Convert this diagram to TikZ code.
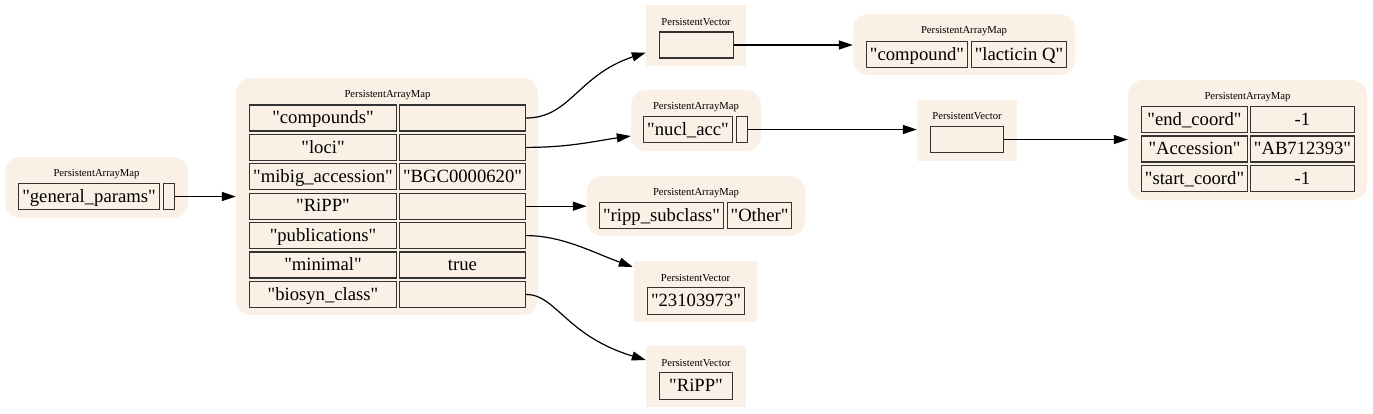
\documentclass[tikz,border=0pt]{standalone}
\usepackage{fontspec}
\newfontfamily\cf{Liberation Serif}
\usetikzlibrary{arrows.meta,calc}
\definecolor{bgc}{HTML}{FAF0E6}
\definecolor{cellb}{HTML}{333333}
\begin{document}
\begin{tikzpicture}[x=1pt,y=-1pt,
  mapbg/.style={fill=bgc,draw=none,rounded corners=15pt,inner sep=0,minimum width=#1},
  vecbg/.style={fill=bgc,draw=none,inner sep=0,minimum width=#1},
  cell/.style={draw=cellb,line width=1.3pt,fill=bgc,inner sep=0,minimum height=26pt,minimum width=#1,text height=15.5pt,text depth=4pt,font=\cf\fontsize{18.67}{20}\selectfont},
  lbl/.style={inner sep=0,font=\cf\fontsize{10.67}{12}\selectfont},
  conn/.style={line width=1.2pt,-{Triangle[length=14pt,width=9pt]}}]
\useasboundingbox (0,0) rectangle (1373,413);
% general params
\node[mapbg=183,minimum height=61] (gpbg) at (96.5,187.5) {};
\node[lbl] (gplbl) at (96.5,174) {PersistentArrayMap};
\node[cell=141] (gpk) at (89,196.5) {"general\_params"};
\node[cell=11] (gpv) at (169,196.5) {};
% central map
\node[mapbg=302,minimum height=237] (cbg) at (387,196.5) {};
\node[lbl] (clbl) at (387.5,95) {PersistentArrayMap};
\foreach \n/\y/\k in {1/118/"compounds", 2/147.4/"loci", 3/176.8/"mibig\_accession", 4/206.2/"RiPP", 5/235.6/"publications", 6/265/"minimal", 7/294.4/"biosyn\_class"}{
  \node[cell=147] (ck\n) at (323,\y) {\k};
}
\node[cell=126] (cv1) at (462.5,118) {};
\node[cell=126] (cv2) at (462.5,147.4) {};
\node[cell=126] (cv3) at (462.5,176.8) {"BGC0000620"};
\node[cell=126] (cv4) at (462.5,206.2) {};
\node[cell=126] (cv5) at (462.5,235.6) {};
\node[cell=126] (cv6) at (462.5,265) {true};
\node[cell=126] (cv7) at (462.5,294.4) {};
% vector 1
\node[vecbg=100,minimum height=61] (v1bg) at (696,35.5) {};
\node[lbl] (v1lbl) at (696,22) {PersistentVector};
\node[cell=74] (v1c) at (696.5,45) {};
% compound map
\node[mapbg=222,minimum height=61] (cmbg) at (964,44.5) {};
\node[lbl] (cmlbl) at (964,31) {PersistentArrayMap};
\node[cell=101] (cmk) at (917,54.5) {"compound"};
\node[cell=95] (cmv) at (1019,54.5) {"lacticin Q"};
% nucl map
\node[mapbg=130,minimum height=61] (nmbg) at (696,120.5) {};
\node[lbl] (nmlbl) at (696,107) {PersistentArrayMap};
\node[cell=89] (nmk) at (688,129.5) {"nucl\_acc"};
\node[cell=11] (nmv) at (742,129.5) {};
% vector 2
\node[vecbg=100,minimum height=61] (v2bg) at (967,130.5) {};
\node[lbl] (v2lbl) at (967,116) {PersistentVector};
\node[cell=73] (v2c) at (967,139.5) {};
% right map
\node[mapbg=239,minimum height=120] (rmbg) at (1247.5,140) {};
\node[lbl] (rmlbl) at (1247.5,97) {PersistentArrayMap};
\node[cell=106] (rk1) at (1194.5,119.5) {"end\_coord"};
\node[cell=104] (rv1) at (1302.5,119.5) {-1};
\node[cell=106] (rk2) at (1194.5,149) {"Accession"};
\node[cell=104] (rv2) at (1302.5,149) {"AB712393"};
\node[cell=106] (rk3) at (1194.5,178.5) {"start\_coord"};
\node[cell=104] (rv3) at (1302.5,178.5) {-1};
% ripp map
\node[mapbg=218,minimum height=60] (ppbg) at (696,206) {};
\node[lbl] (pplbl) at (696,193) {PersistentArrayMap};
\node[cell=124] (ppk) at (661.5,215.5) {"ripp\_subclass"};
\node[cell=64] (ppv) at (759.5,215.5) {"Other"};
% vector 3
\node[vecbg=123,minimum height=61] (v3bg) at (695.5,291.5) {};
\node[lbl] (v3lbl) at (695.5,278) {PersistentVector};
\node[cell=97,minimum height=27] (v3c) at (696,301) {"23103973"};
% vector 4
\node[vecbg=100,minimum height=61] (v4bg) at (696,376.5) {};
\node[lbl] (v4lbl) at (696,363) {PersistentVector};
\node[cell=73,minimum height=27] (v4c) at (696,386) {"RiPP"};
% connectors
\draw[conn] (gpv.east) -- (cbg.west);
\coordinate (t1) at ($(v1bg.west)+(0,17)$);
\draw[conn] (cv1.east) .. controls (570,118) and (578,75) .. (t1);
\coordinate (t2) at ($(nmbg.west)+(0,15.5)$);
\draw[conn] (cv2.east) .. controls (570,147.4) and (595,141) .. (t2);
\draw[conn] (cv4.east) -- (cv4.east -| ppbg.west);
\coordinate (t5) at ($(v3bg.west)+(-1,-24.5)$);
\draw[conn] (cv5.east) .. controls (562,235.6) and (592,252) .. (t5);
\coordinate (t7) at ($(v4bg.west)+(0,-16.5)$);
\draw[conn] (cv7.east) .. controls (556,294.4) and (566,336) .. (t7);
\draw[conn] (v1c.east) -- (v1c.east -| cmbg.west);
\draw[conn] (nmv.east) -- (nmv.east -| v2bg.west);
\draw[conn] (v2c.east) -- (v2c.east -| rmbg.west);
\end{tikzpicture}
\end{document}
